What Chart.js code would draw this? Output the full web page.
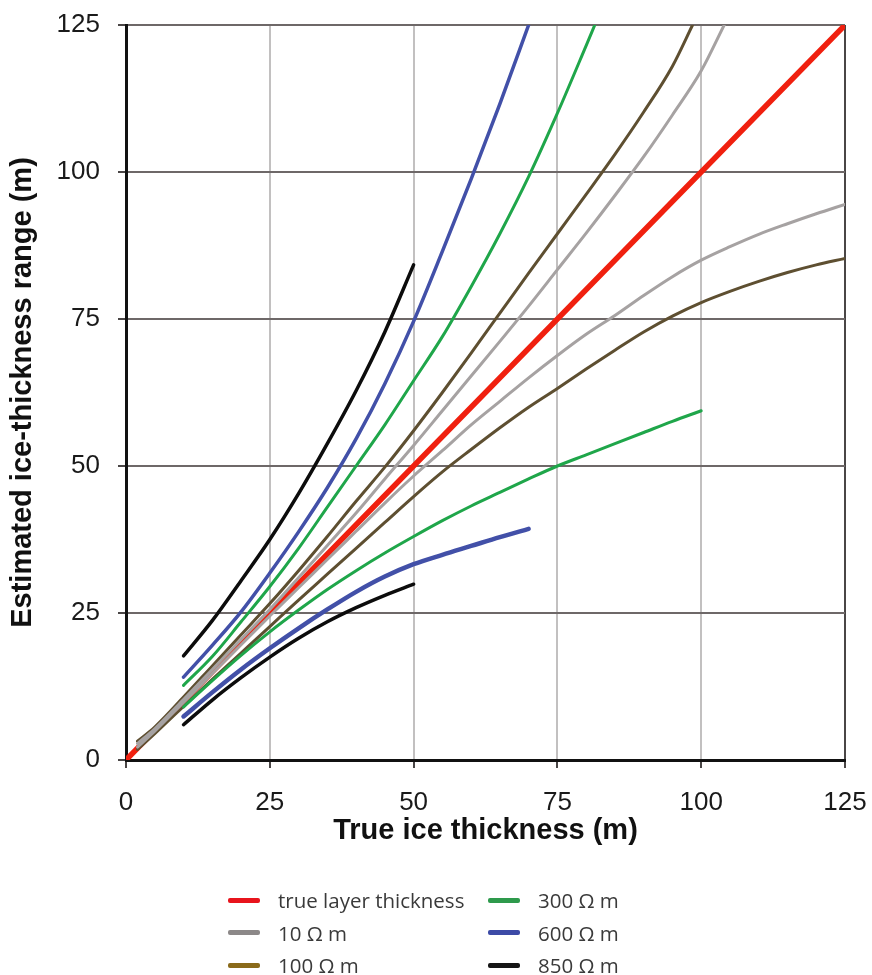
<!DOCTYPE html>
<html>
<head>
<meta charset="utf-8">
<script src="https://cdn.jsdelivr.net/npm/chart.js@4.4.1/dist/chart.umd.min.js"></script>
<style>
  html, body { margin: 0; padding: 0; background: #fff; overflow: hidden; }
  #wrap { position: relative; width: 872px; height: 975px; }
  #chart { position: absolute; left: 0; top: 0; }
  #legend {
    position: absolute; left: 228px; top: 884px;
    display: grid; grid-auto-flow: column;
    grid-template-rows: repeat(3, 32.5px);
    grid-template-columns: 260px auto;
    font-family: "Open Sans", "Noto Sans", sans-serif; font-size: 20.5px; color: #3a3a3a;
  }
  .item { display: flex; align-items: center; height: 32.5px; white-space: nowrap; }
  .sw { display: inline-block; width: 32px; height: 5px; border-radius: 2px; margin-right: 18px; }
</style>
</head>
<body>
<div id="wrap">
  <canvas id="chart" width="872" height="975"></canvas>
  <div id="legend"></div>
</div>
<script>
// ---- data ----
const X_TICKS = [0, 25, 50, 75, 100, 125];
const Y_TICKS = [0, 25, 50, 75, 100, 125];

const TRUE_X = [0, 125];
const TRUE_Y = [0, 125];

// 10 ohm m (upper / lower bound)
const R10_UP_X = [2, 5, 10, 15, 20, 25, 30, 35, 40, 45, 50, 55, 60, 65, 70, 75, 80, 85, 90, 95, 100, 104];
const R10_UP_Y = [2.8, 5.3, 10.3, 15.4, 20.5, 25.6, 31, 36.5, 42, 47.8, 53.5, 59.4, 65.3, 71.2, 77.2, 83.4, 89.6, 96, 102.6, 109.7, 117.2, 125];
const R10_LO_X = [2, 5, 10, 15, 20, 25, 30, 35, 40, 45, 50, 55, 60, 65, 70, 75, 80, 85, 90, 95, 100, 105, 110, 115, 120, 125];
const R10_LO_Y = [2.2, 4.9, 9.8, 14.7, 19.6, 24.5, 29.3, 34.1, 38.9, 43.7, 48.3, 52.6, 57, 61, 65, 68.8, 72.4, 75.6, 79, 82.2, 85, 87.3, 89.4, 91.2, 92.9, 94.5];

// 100 ohm m
const R100_UP_X = [2, 5, 10, 15, 20, 25, 30, 35, 40, 45, 50, 55, 60, 65, 70, 75, 80, 85, 90, 95, 98.5];
const R100_UP_Y = [3.2, 5.6, 10.7, 16, 21.3, 26.6, 32.2, 38, 44, 49.8, 56, 62.5, 69.2, 76, 82.8, 89.5, 96.2, 103, 110.2, 118, 125];
const R100_LO_X = [2, 5, 10, 15, 20, 25, 30, 35, 40, 45, 50, 55, 60, 65, 70, 75, 80, 85, 90, 95, 100, 105, 110, 115, 120, 125];
const R100_LO_Y = [1.8, 4.5, 9.1, 13.7, 18.2, 22.7, 27.2, 31.6, 36, 40.4, 44.8, 49, 52.8, 56.5, 60, 63.2, 66.5, 69.7, 72.8, 75.5, 77.8, 79.7, 81.4, 82.9, 84.2, 85.3];

// 300 ohm m
const R300_UP_X = [10, 15, 20, 25, 30, 35, 40, 45, 50, 55, 60, 65, 70, 75, 80, 81.5];
const R300_UP_Y = [12.7, 17.6, 23.5, 29.5, 36, 43, 50, 57, 64.5, 72, 80.5, 89.5, 99.2, 110, 121.5, 125];
const R300_LO_X = [10, 15, 20, 25, 30, 35, 40, 45, 50, 55, 60, 65, 70, 75, 80, 85, 90, 95, 100];
const R300_LO_Y = [9, 13.5, 17.8, 21.8, 25.5, 29, 32.2, 35.2, 38, 40.7, 43.2, 45.5, 47.8, 50, 51.9, 53.8, 55.7, 57.6, 59.4];

// 600 ohm m
const R600_UP_X = [10, 15, 20, 25, 30, 35, 40, 45, 50, 55, 60, 65, 70];
const R600_UP_Y = [14.1, 19.5, 25.2, 31.8, 38.8, 46.3, 54.6, 64, 74.6, 86.5, 98.8, 111.6, 125];
const R600_LO_X = [10, 15, 20, 25, 30, 35, 40, 45, 50, 55, 60, 65, 70];
const R600_LO_Y = [7.4, 11.5, 15.4, 19, 22.4, 25.6, 28.6, 31.2, 33.3, 34.9, 36.4, 37.9, 39.3];

// 850 ohm m
const R850_UP_X = [10, 15, 20, 25, 30, 35, 40, 45, 50];
const R850_UP_Y = [17.7, 23.7, 30.5, 37.5, 45.3, 53.8, 62.8, 72.8, 84.2];
const R850_LO_X = [10, 15, 20, 25, 30, 35, 40, 45, 50];
const R850_LO_Y = [6, 10.2, 14, 17.5, 20.7, 23.5, 25.9, 28, 29.9];

const LEGEND_LABELS = ['true layer thickness', '10 Ω m', '100 Ω m', '300 Ω m', '600 Ω m', '850 Ω m'];

// ---- styles ----
const C_RED = '#f0200f', C_GRAY = '#a6a2a2', C_BROWN = '#5e4f31', C_GREEN = '#1fa64a', C_BLUE = '#4250a8', C_BLACK = '#0c0c0c';
const LEGEND_COLORS = ['#e8141c', '#8c8888', '#8a6a1a', '#2e9a4c', '#3c4aa6', '#151515'];

function series(label, xs, ys, color, width, order) {
  return {
    label: label,
    data: xs.map((x, i) => ({ x: x, y: ys[i] })),
    borderColor: color,
    backgroundColor: color,
    borderWidth: width,
    pointRadius: 0,
    fill: false,
    cubicInterpolationMode: 'monotone',
    borderCapStyle: 'round',
    order: order
  };
}

const datasets = [
  series('true layer thickness', TRUE_X, TRUE_Y, C_RED, 5.5, 10),
  series('10 Ω m', R10_UP_X, R10_UP_Y, C_GRAY, 3, 5),
  series('10 Ω m (lower)', R10_LO_X, R10_LO_Y, C_GRAY, 3, 5),
  series('100 Ω m', R100_UP_X, R100_UP_Y, C_BROWN, 3, 6),
  series('100 Ω m (lower)', R100_LO_X, R100_LO_Y, C_BROWN, 3, 6),
  series('300 Ω m', R300_UP_X, R300_UP_Y, C_GREEN, 3, 3),
  series('300 Ω m (lower)', R300_LO_X, R300_LO_Y, C_GREEN, 3, 3),
  series('600 Ω m', R600_UP_X, R600_UP_Y, C_BLUE, 3.5, 2),
  series('600 Ω m (lower)', R600_LO_X, R600_LO_Y, C_BLUE, 4.5, 2),
  series('850 Ω m', R850_UP_X, R850_UP_Y, C_BLACK, 3.5, 1),
  series('850 Ω m (lower)', R850_LO_X, R850_LO_Y, C_BLACK, 3.5, 1)
];

const TICK_FONT = { family: "'Liberation Sans', Arial, sans-serif", size: 26 };
const TITLE_FONT = { family: "'Liberation Sans', Arial, sans-serif", size: 29, weight: 'bold' };

function noPad(axis) {
  axis.paddingTop = 0; axis.paddingBottom = 0; axis.paddingLeft = 0; axis.paddingRight = 0;
}

new Chart(document.getElementById('chart'), {
  type: 'line',
  data: { datasets: datasets },
  options: {
    responsive: false,
    animation: false,
    devicePixelRatio: 1,
    layout: { padding: { top: 25, right: 27, bottom: 127, left: 0 } },
    plugins: { legend: { display: false }, tooltip: { enabled: false } },
    scales: {
      x: {
        type: 'linear', min: 0, max: 125,
        afterBuildTicks: (axis) => { axis.ticks = X_TICKS.map(v => ({ value: v })); },
        afterFit: (axis) => { axis.height = 88; noPad(axis); },
        ticks: { font: TICK_FONT, color: '#1a1a1a', padding: 19 },
        grid: {
          color: (ctx) => (ctx.tick && ctx.tick.value === 125) ? '#4a4646' : '#c2c0c0',
          lineWidth: 2, tickLength: 8, tickColor: '#4a4646'
        },
        border: { color: '#111', width: 3 },
        title: { display: true, text: 'True ice thickness (m)', font: TITLE_FONT, color: '#111', padding: { top: 0, bottom: 0 } }
      },
      y: {
        type: 'linear', min: 0, max: 125,
        afterBuildTicks: (axis) => { axis.ticks = Y_TICKS.map(v => ({ value: v })); },
        afterFit: (axis) => { axis.width = 126; noPad(axis); },
        ticks: { font: TICK_FONT, color: '#1a1a1a', padding: 18 },
        grid: { color: '#6e6868', lineWidth: 2, tickLength: 8, tickColor: '#4a4646' },
        border: { color: '#111', width: 3 },
        title: { display: true, text: 'Estimated ice-thickness range (m)', font: TITLE_FONT, color: '#111', padding: { top: 6, bottom: 0 } }
      }
    }
  }
});

// HTML legend built from the label / colour arrays
const legendEl = document.getElementById('legend');
LEGEND_LABELS.forEach((lab, i) => {
  const it = document.createElement('div');
  it.className = 'item';
  const sw = document.createElement('span');
  sw.className = 'sw';
  sw.style.background = LEGEND_COLORS[i];
  const tx = document.createElement('span');
  tx.textContent = lab;
  it.appendChild(sw); it.appendChild(tx);
  legendEl.appendChild(it);
});
</script>
</body>
</html>
